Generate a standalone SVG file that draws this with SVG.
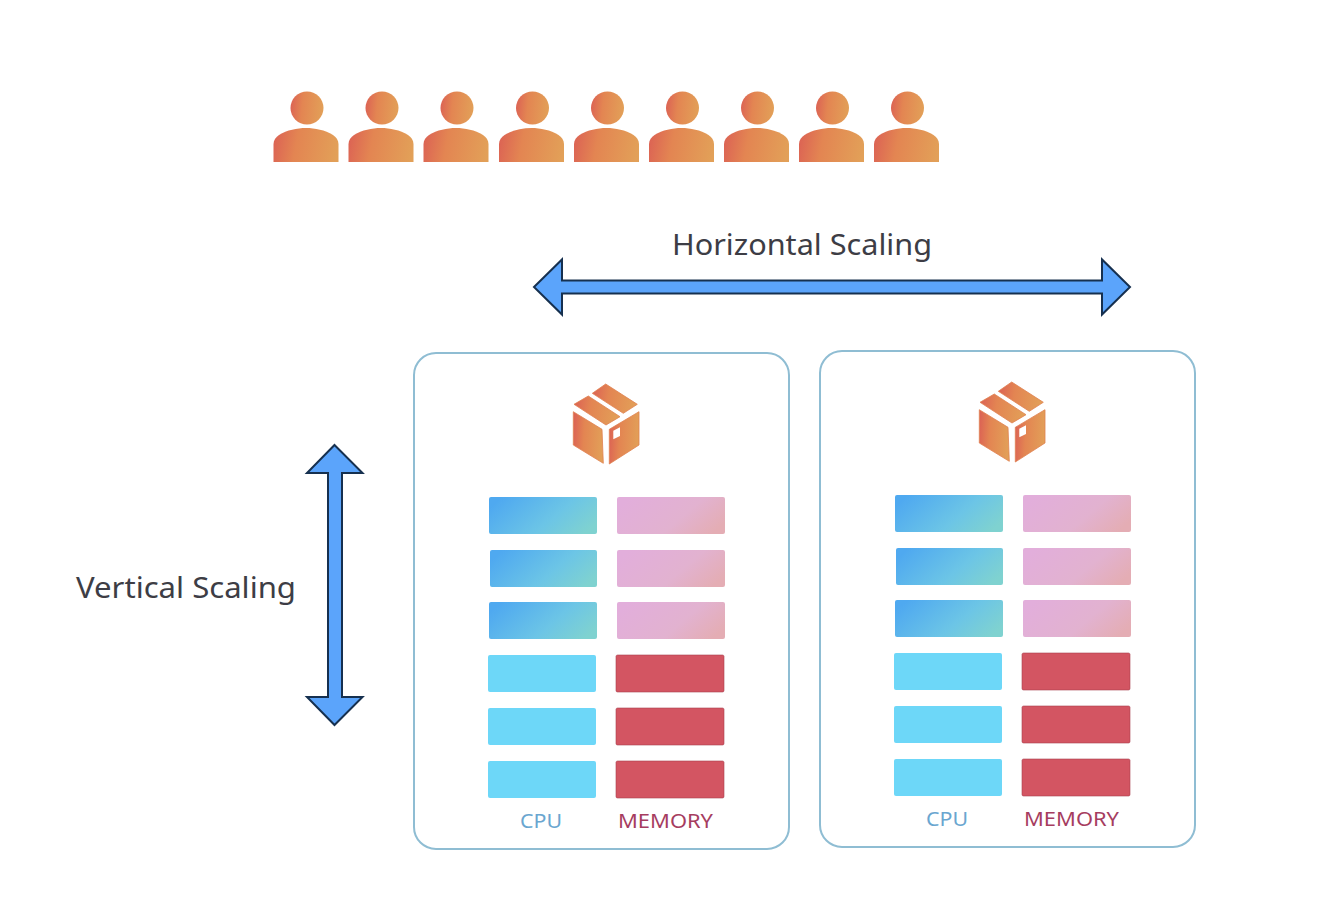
<svg xmlns="http://www.w3.org/2000/svg" xmlns:xlink="http://www.w3.org/1999/xlink" width="1339" height="907" viewBox="0 0 1339 907">
<style>
.card{fill:#fff;stroke:#8fbdd3;stroke-width:2}
.arrow{fill:#5ba4fb;stroke:#16304f;stroke-width:2;stroke-linejoin:miter}
.label{font-family:"Noto Sans","Open Sans",sans-serif;fill:#3d3d45}
.big{font-size:29.5px}
.small{font-size:20.5px}
.cpu-l{fill:#6aa6d0}
.mem-l{fill:#a63d5f}
.cpuA{fill:url(#gCpu)}
.memA{fill:url(#gMem)}
.cpuB{fill:#6dd7f8}
.memB{fill:#d35562;stroke:#a8404f;stroke-width:.6}
.o{fill:url(#gOrange)}
.lid{stroke:#e0804f;stroke-width:.8;stroke-linejoin:round}
</style>
<defs>
<linearGradient id="gOrange" x1="0" y1="0.45" x2="1" y2="0.55"><stop offset="0" stop-color="#dc6454"/><stop offset="0.35" stop-color="#e38552"/><stop offset="1" stop-color="#e2a058"/></linearGradient>
<linearGradient id="gCpu" x1="0" y1="0.3" x2="1" y2="0.7"><stop offset="0" stop-color="#4fa9f0"/><stop offset="0.6" stop-color="#6cc5e6"/><stop offset="1" stop-color="#7fd2d0"/></linearGradient>
<linearGradient id="gMem" x1="0" y1="0.3" x2="1" y2="0.7"><stop offset="0" stop-color="#e2aedb"/><stop offset="0.6" stop-color="#e2b2d0"/><stop offset="1" stop-color="#e4adb4"/></linearGradient>
<g id="person">
<circle class="o" cx="34" cy="18" r="16.500"/>
<path class="o" d="M0.500 72V54C0.500 50 3 47 6 45C14 40 24 38 33 38C42 38 52 40 60 45C63 47 65.500 50 65.500 54V72Z"/>
</g>
<g id="box">
<path class="o lid" d="M605.700 384L637.300 404.300L623.300 413.300L592.300 393.300Z"/>
<path class="o lid" d="M588.300 396L620 416.700L606 425L574 404.300Z"/>
<path class="o lid" d="M573.300 411.700L602 429.300L603.300 463.300L573.300 445Z"/>
<path class="o lid" d="M609.300 429.300L639 411.700V445L609.300 464Z"/>
<path fill="#fff" d="M613.300 430.700L620 427.300V436L613.300 439.300Z"/>
</g>
<g id="bars">
<rect class="cpuA" x="489" y="497" width="108" height="37" rx="2"/>
<rect class="memA" x="617" y="497" width="108" height="37" rx="2"/>
<rect class="cpuA" x="490" y="550" width="107" height="37" rx="2"/>
<rect class="memA" x="617" y="550" width="108" height="37" rx="2"/>
<rect class="cpuA" x="489" y="602" width="108" height="37" rx="2"/>
<rect class="memA" x="617" y="602" width="108" height="37" rx="2"/>
<rect class="cpuB" x="488" y="655" width="108" height="37" rx="2"/>
<rect class="memB" x="616" y="655" width="108" height="37" rx="1.500"/>
<rect class="cpuB" x="488" y="708" width="108" height="37" rx="2"/>
<rect class="memB" x="616" y="708" width="108" height="37" rx="1.500"/>
<rect class="cpuB" x="488" y="761" width="108" height="37" rx="2"/>
<rect class="memB" x="616" y="761" width="108" height="37" rx="1.500"/>
</g>
</defs>
<rect width="1339" height="907" fill="#fff"/>
<g id="users">
<use xlink:href="#person" href="#person" x="273" y="90"/>
<use xlink:href="#person" href="#person" x="348" y="90"/>
<use xlink:href="#person" href="#person" x="423" y="90"/>
<use xlink:href="#person" href="#person" x="498.500" y="90"/>
<use xlink:href="#person" href="#person" x="573.500" y="90"/>
<use xlink:href="#person" href="#person" x="648.500" y="90"/>
<use xlink:href="#person" href="#person" x="723.500" y="90"/>
<use xlink:href="#person" href="#person" x="798.500" y="90"/>
<use xlink:href="#person" href="#person" x="873.500" y="90"/>
</g>
<g id="connectors">
<path id="horizontal-arrow" class="arrow" d="M534 287L562 259.500V280.500H1102V259.500L1130 287L1102 314.500V293.500H562V314.500Z"/>
<path id="vertical-arrow" class="arrow" d="M334.500 445L362.500 473H342V697H362.500L334.500 725L307 697H328V473H307Z"/>
</g>
<text id="horizontal-label" class="label big" x="672" y="255" textLength="260" lengthAdjust="spacingAndGlyphs">Horizontal Scaling</text>
<text id="vertical-label" class="label big" x="76" y="598" textLength="220" lengthAdjust="spacingAndGlyphs">Vertical Scaling</text>
<g id="node-1">
<rect class="card" x="414" y="353" width="375" height="496" rx="22"/>
<use xlink:href="#box" href="#box"/>
<use xlink:href="#bars" href="#bars"/>
<text class="label small cpu-l" x="520" y="828" textLength="42" lengthAdjust="spacingAndGlyphs">CPU</text>
<text class="label small mem-l" x="618" y="828" textLength="95" lengthAdjust="spacingAndGlyphs">MEMORY</text>
</g>
<g id="node-2">
<rect class="card" x="820" y="351" width="375" height="496" rx="22"/>
<use xlink:href="#box" href="#box" x="406" y="-2"/>
<use xlink:href="#bars" href="#bars" x="406" y="-2"/>
<text class="label small cpu-l" x="926" y="826" textLength="42" lengthAdjust="spacingAndGlyphs">CPU</text>
<text class="label small mem-l" x="1024" y="826" textLength="95" lengthAdjust="spacingAndGlyphs">MEMORY</text>
</g>
</svg>
